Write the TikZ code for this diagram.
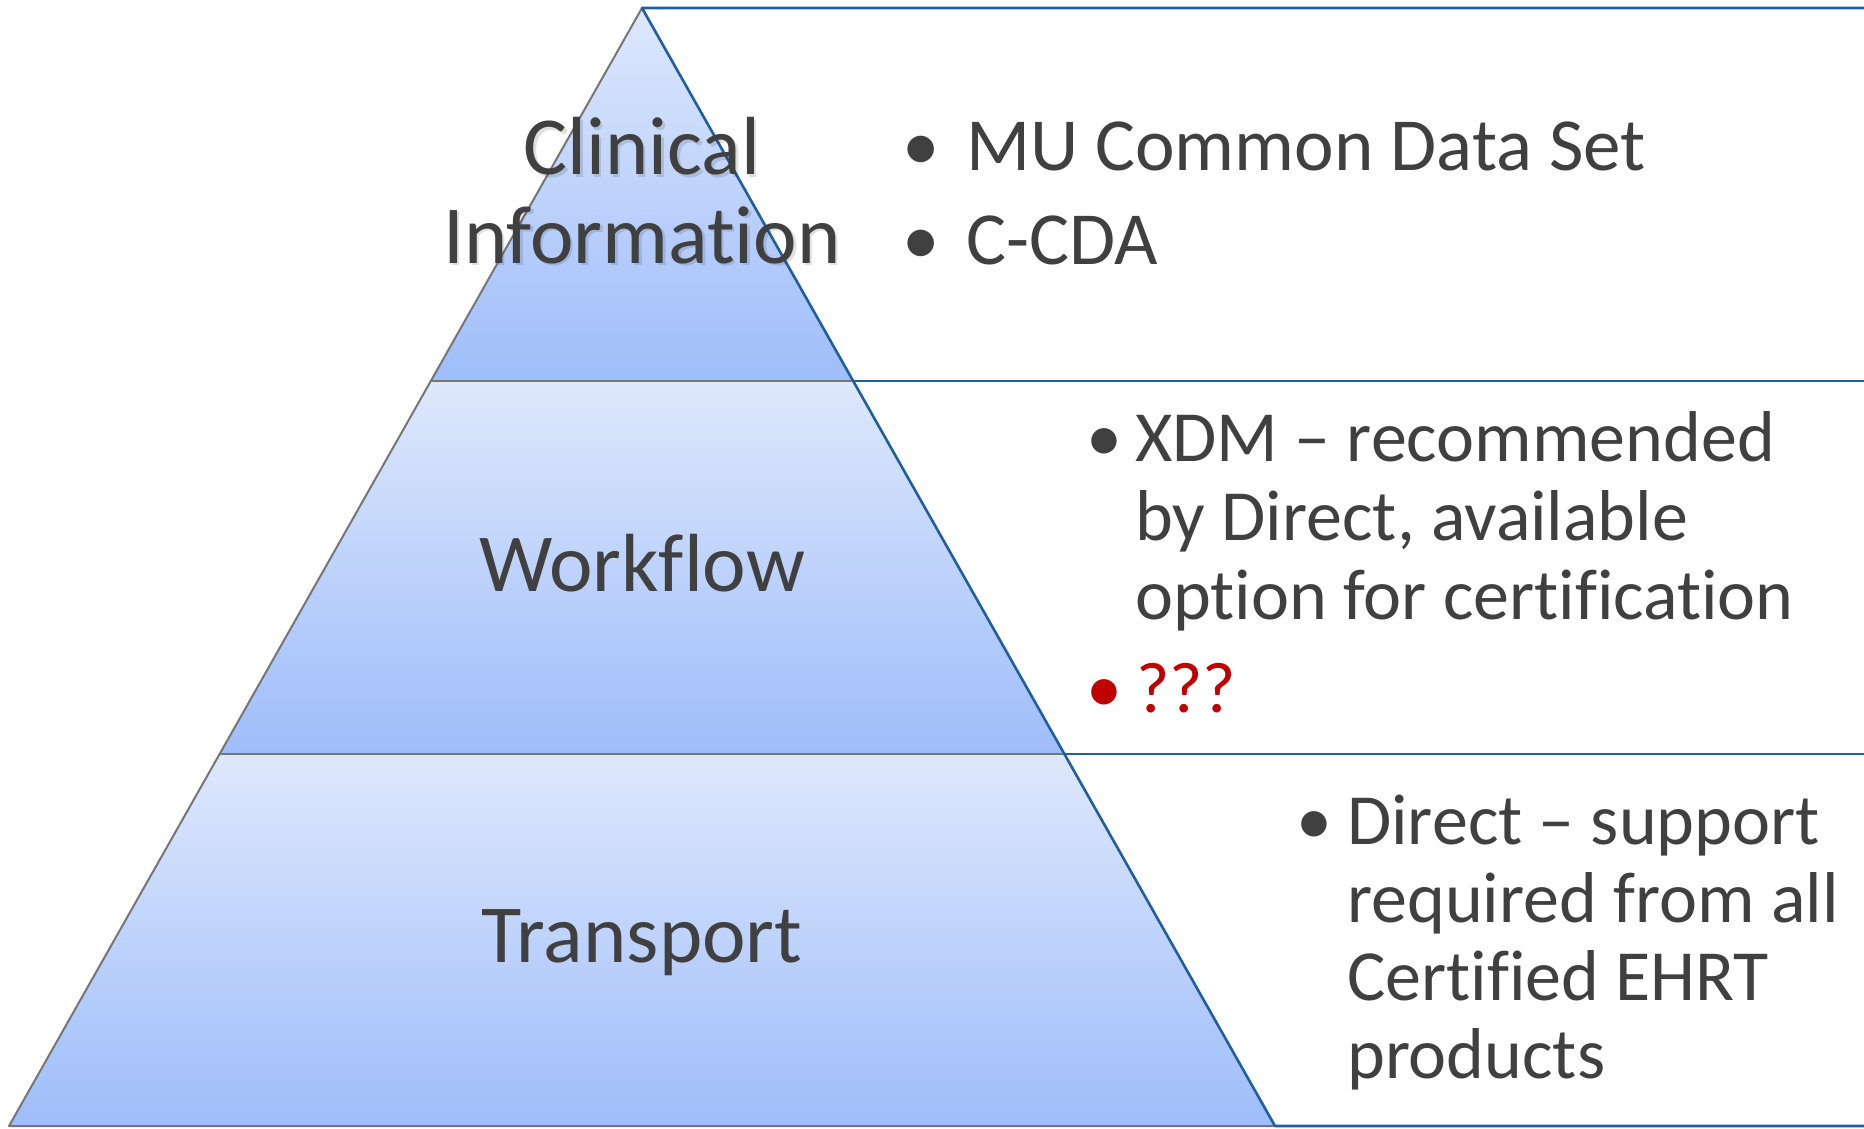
\documentclass[tikz,border=0pt]{standalone}
\usepackage{fontspec}
\setmainfont{Carlito}[Ligatures={NoCommon}]
\definecolor{txt}{RGB}{64,64,64}
\definecolor{redq}{RGB}{192,0,0}
\definecolor{edgeblue}{RGB}{31,95,160}
\definecolor{outlinegray}{RGB}{118,118,118}
\definecolor{fillTop}{RGB}{222,232,252}
\definecolor{fillBot}{RGB}{158,189,250}
\tikzset{
  layer/.style={top color=fillTop,bottom color=fillBot},
  grayline/.style={draw=outlinegray,line width=2pt,line join=round},
  blueline/.style={draw=edgeblue,line width=2.6pt,line join=round},
  bigtxt/.style={text=txt,inner sep=0pt,font=\fontsize{82.5}{88}\selectfont},
  toptxt/.style={text=txt,inner sep=0pt,font=\fontsize{75}{90}\selectfont},
  bultxt/.style={text=txt,inner sep=0pt,font=\fontsize{72}{78}\selectfont},
  shadowtxt/.style={text=black,opacity=0.12,inner sep=0pt,font=\fontsize{82.5}{88}\selectfont},
}
\begin{document}
\begin{tikzpicture}[x=1pt,y=-1pt]
\useasboundingbox (0,0) rectangle (1864,1128);
\fill[white] (0,0) rectangle (1864,1128);
% corners
\coordinate (apex) at (642,8);
\coordinate (L1) at (431,381);
\coordinate (R1) at (853,381);
\coordinate (L2) at (219.5,754);
\coordinate (R2) at (1064.5,754);
\coordinate (L3) at (9,1126);
\coordinate (R3) at (1275,1126);
\coordinate (E0) at (1864,8);
\coordinate (E1) at (1864,381);
\coordinate (E2) at (1864,754);
\coordinate (E3) at (1864,1126);
% layers
\shade[layer] (apex) -- (R1) -- (L1) -- cycle;
\shade[layer] (L1) -- (R1) -- (R2) -- (L2) -- cycle;
\shade[layer] (L2) -- (R2) -- (R3) -- (L3) -- cycle;
% gray outlines
\draw[grayline] (apex) -- (L3) -- (R3);
\draw[grayline] (L1) -- (R1);
\draw[grayline] (L2) -- (R2);
% blue frame of the right side
\draw[blueline] (E0) -- (apex) -- (R3) -- (E3);
\draw[blueline] (R1) -- (E1);
\draw[blueline] (R2) -- (E2);
% pyramid labels
\node[shadowtxt,anchor=base] at (644.5,177) {Clinical};
\node[shadowtxt,anchor=base] at (644.5,265.5) {Information};
\node[bigtxt,anchor=base] (clin) at (642,174.5) {Clinical};
\node[bigtxt,anchor=base] (info) at (642,263) {Information};
\node[bigtxt,anchor=base] (work) at (642,591) {Workflow};
\node[bigtxt,anchor=base] (trans) at (642,962) {Transport};
% top bullets
\node[toptxt,anchor=base] (b1) at (921,170) {•};
\node[toptxt,anchor=base west] (t1) at (966,170) {MU Common Data Set};
\node[toptxt,anchor=base] (b2) at (921,264) {•};
\node[toptxt,anchor=base west] (t2) at (966,264) {C-CDA};
% middle bullets
\node[bultxt,anchor=base] (b3) at (1104,461) {•};
\node[bultxt,anchor=base west] (t3a) at (1135,461) {XDM – recommended};
\node[bultxt,anchor=base west] (t3b) at (1135,540) {by Direct, available};
\node[bultxt,anchor=base west] (t3c) at (1135,619) {option for certification};
\node[bultxt,anchor=base,text=redq] (b4) at (1104,712) {•};
\node[bultxt,anchor=base west,text=redq] (t4) at (1136,712) {???};
% bottom bullets
\node[bultxt,anchor=base] (b5) at (1314,844) {•};
\node[bultxt,anchor=base west] (t5a) at (1347,844) {Direct – support};
\node[bultxt,anchor=base west] (t5b) at (1347,922) {required from all};
\node[bultxt,anchor=base west] (t5c) at (1347,1000) {Certified EHRT};
\node[bultxt,anchor=base west] (t5d) at (1347,1078) {products};
\end{tikzpicture}
\end{document}
